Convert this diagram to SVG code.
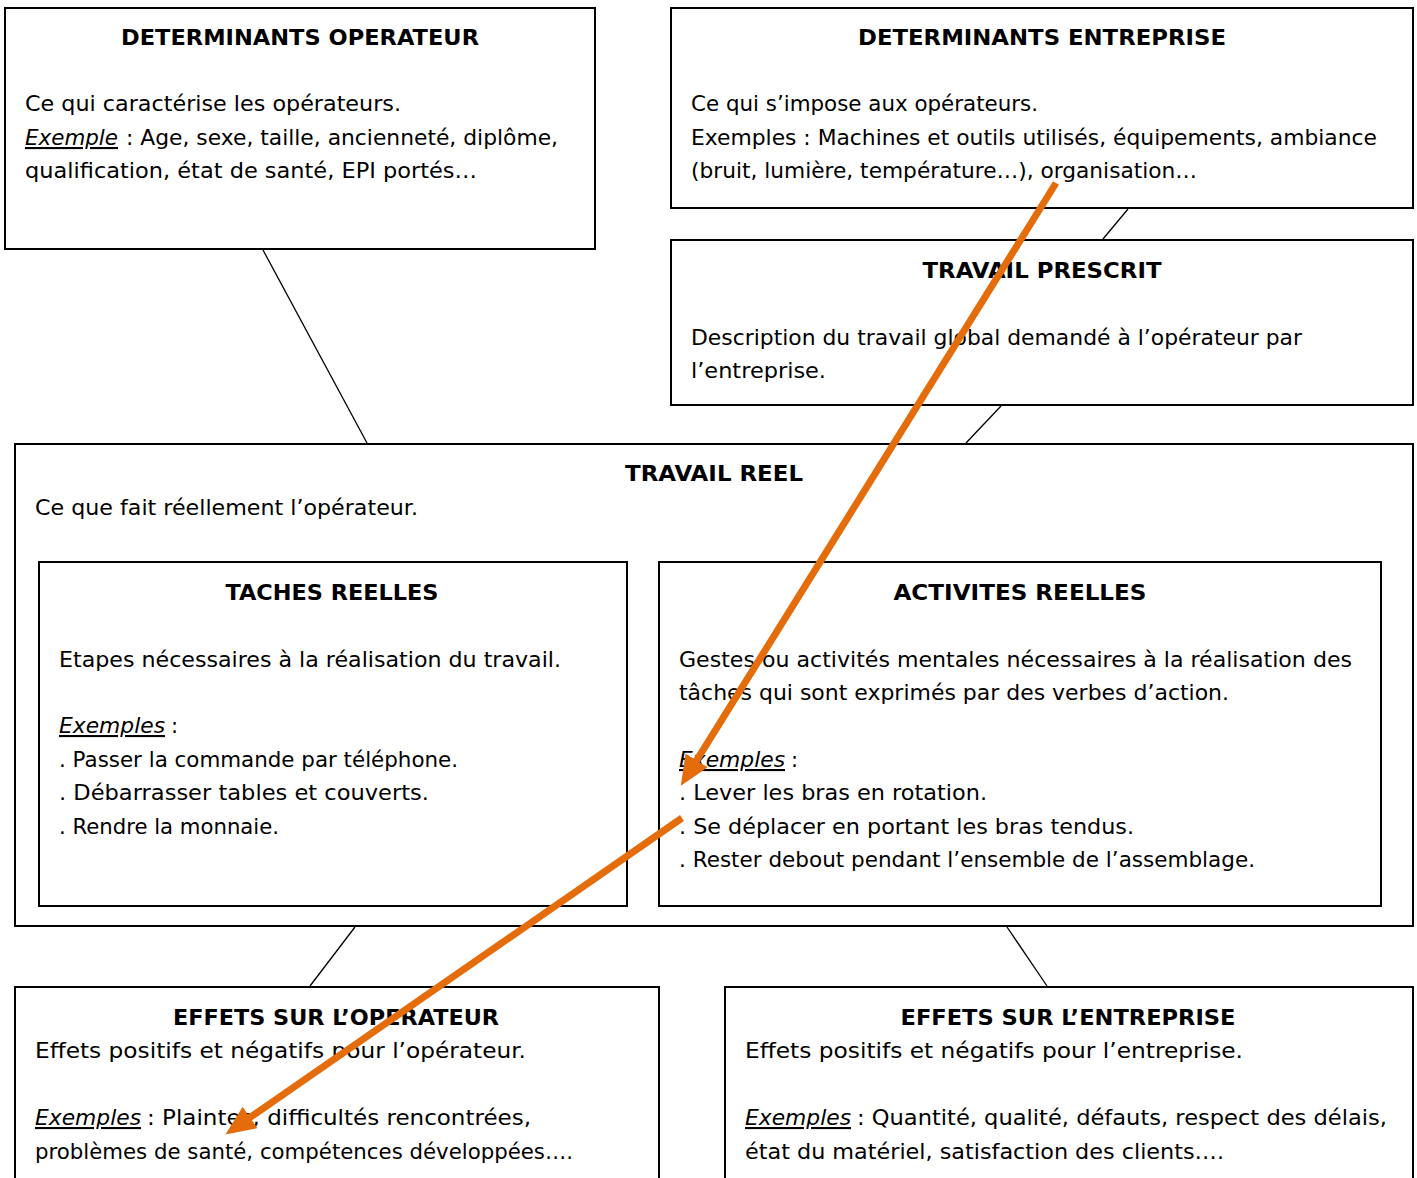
<svg xmlns="http://www.w3.org/2000/svg" width="1417" height="1178" viewBox="0 0 1417 1178">
<style>
rect.box{fill:#fff;stroke:#000;stroke-width:2}
text{font-family:"Comic Sans MS","DejaVu Sans",sans-serif;font-size:21px;fill:#000}
text.h{font-weight:bold;text-anchor:middle}
text.u{font-style:italic;text-decoration:underline}
line.c{stroke:#000;stroke-width:1.3}
line.o{stroke:#E46C0A;stroke-width:7;marker-end:url(#ah)}
</style>
<defs>
<marker id="ah" markerUnits="userSpaceOnUse" markerWidth="30" markerHeight="26" refX="22" refY="13" orient="auto">
<path d="M0,0 L30,13 L0,26 z" fill="#E46C0A"/>
</marker>
</defs>
<rect width="1417" height="1178" fill="#fff"/>

<g id="determinants-operateur">
<rect class="box" x="5" y="8" width="590" height="241"/>
<text class="h" x="300" y="45" textLength="358" lengthAdjust="spacingAndGlyphs">DETERMINANTS OPERATEUR</text>
<text x="25" y="111" textLength="376" lengthAdjust="spacingAndGlyphs">Ce qui caractérise les opérateurs.</text>
<text class="u" x="25" y="145" textLength="93" lengthAdjust="spacingAndGlyphs">Exemple</text>
<text x="126" y="145" textLength="432" lengthAdjust="spacingAndGlyphs">: Age, sexe, taille, ancienneté, diplôme,</text>
<text x="25" y="178" textLength="452" lengthAdjust="spacingAndGlyphs">qualification, état de santé, EPI portés…</text>
</g>

<g id="determinants-entreprise">
<rect class="box" x="671" y="8" width="742" height="200"/>
<text class="h" x="1042" y="45" textLength="368" lengthAdjust="spacingAndGlyphs">DETERMINANTS ENTREPRISE</text>
<text x="691" y="111" textLength="347" lengthAdjust="spacingAndGlyphs">Ce qui s’impose aux opérateurs.</text>
<text x="691" y="145" textLength="686" lengthAdjust="spacingAndGlyphs">Exemples : Machines et outils utilisés, équipements, ambiance</text>
<text x="691" y="178" textLength="506" lengthAdjust="spacingAndGlyphs">(bruit, lumière, température…), organisation…</text>
</g>

<g id="travail-prescrit">
<rect class="box" x="671" y="240" width="742" height="165"/>
<text class="h" x="1042" y="278" textLength="239" lengthAdjust="spacingAndGlyphs">TRAVAIL PRESCRIT</text>
<text x="691" y="345" textLength="611" lengthAdjust="spacingAndGlyphs">Description du travail global demandé à l’opérateur par</text>
<text x="691" y="378" textLength="135" lengthAdjust="spacingAndGlyphs">l’entreprise.</text>
</g>

<g id="travail-reel">
<rect class="box" x="15" y="444" width="1398" height="482"/>
<text class="h" x="714" y="481" textLength="178" lengthAdjust="spacingAndGlyphs">TRAVAIL REEL</text>
<text x="35" y="515" textLength="383" lengthAdjust="spacingAndGlyphs">Ce que fait réellement l’opérateur.</text>
</g>

<g id="taches-reelles">
<rect class="box" x="39" y="562" width="588" height="344"/>
<text class="h" x="332" y="600" textLength="213" lengthAdjust="spacingAndGlyphs">TACHES REELLES</text>
<text x="59" y="667" textLength="502" lengthAdjust="spacingAndGlyphs">Etapes nécessaires à la réalisation du travail.</text>
<text class="u" x="59" y="733" textLength="106" lengthAdjust="spacingAndGlyphs">Exemples</text>
<text x="171" y="733">:</text>
<text x="59" y="767" textLength="399" lengthAdjust="spacingAndGlyphs">. Passer la commande par téléphone.</text>
<text x="59" y="800" textLength="370" lengthAdjust="spacingAndGlyphs">. Débarrasser tables et couverts.</text>
<text x="59" y="834" textLength="220" lengthAdjust="spacingAndGlyphs">. Rendre la monnaie.</text>
</g>

<g id="activites-reelles">
<rect class="box" x="659" y="562" width="722" height="344"/>
<text class="h" x="1020" y="600" textLength="253" lengthAdjust="spacingAndGlyphs">ACTIVITES REELLES</text>
<text x="679" y="667" textLength="673" lengthAdjust="spacingAndGlyphs">Gestes ou activités mentales nécessaires à la réalisation des</text>
<text x="679" y="700" textLength="550" lengthAdjust="spacingAndGlyphs">tâches qui sont exprimés par des verbes d’action.</text>
<text class="u" x="679" y="767" textLength="106" lengthAdjust="spacingAndGlyphs">Exemples</text>
<text x="791" y="767">:</text>
<text x="679" y="800" textLength="308" lengthAdjust="spacingAndGlyphs">. Lever les bras en rotation.</text>
<text x="679" y="834" textLength="455" lengthAdjust="spacingAndGlyphs">. Se déplacer en portant les bras tendus.</text>
<text x="679" y="867" textLength="576" lengthAdjust="spacingAndGlyphs">. Rester debout pendant l’ensemble de l’assemblage.</text>
</g>

<g id="effets-operateur">
<rect class="box" x="15" y="987" width="644" height="230"/>
<text class="h" x="336" y="1025" textLength="326" lengthAdjust="spacingAndGlyphs">EFFETS SUR L’OPERATEUR</text>
<text x="35" y="1058" textLength="491" lengthAdjust="spacingAndGlyphs">Effets positifs et négatifs pour l’opérateur.</text>
<text class="u" x="35" y="1125" textLength="106" lengthAdjust="spacingAndGlyphs">Exemples</text>
<text x="147" y="1125" textLength="384" lengthAdjust="spacingAndGlyphs">: Plaintes, difficultés rencontrées,</text>
<text x="35" y="1159" textLength="538" lengthAdjust="spacingAndGlyphs">problèmes de santé, compétences développées….</text>
</g>

<g id="effets-entreprise">
<rect class="box" x="725" y="987" width="688" height="230"/>
<text class="h" x="1068" y="1025" textLength="335" lengthAdjust="spacingAndGlyphs">EFFETS SUR L’ENTREPRISE</text>
<text x="745" y="1058" textLength="498" lengthAdjust="spacingAndGlyphs">Effets positifs et négatifs pour l’entreprise.</text>
<text class="u" x="745" y="1125" textLength="106" lengthAdjust="spacingAndGlyphs">Exemples</text>
<text x="857" y="1125" textLength="530" lengthAdjust="spacingAndGlyphs">: Quantité, qualité, défauts, respect des délais,</text>
<text x="745" y="1159" textLength="479" lengthAdjust="spacingAndGlyphs">état du matériel, satisfaction des clients….</text>
</g>

<g id="connectors">
<line class="c" x1="263" y1="250" x2="367" y2="443"/>
<line class="c" x1="1128" y1="209" x2="1103" y2="239"/>
<line class="c" x1="1001" y1="406" x2="966" y2="443"/>
<line class="c" x1="355" y1="927" x2="310" y2="986"/>
<line class="c" x1="1007" y1="927" x2="1047" y2="986"/>
<line class="o" x1="1056" y1="183" x2="685" y2="779"/>
<line class="o" x1="682" y1="818" x2="232" y2="1130"/>
</g>
</svg>
